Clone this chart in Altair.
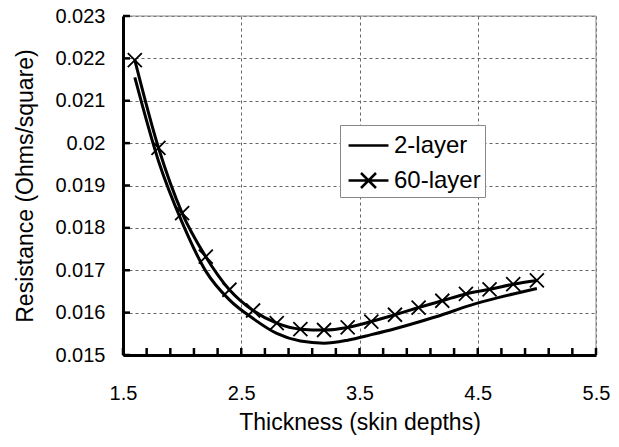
import altair as alt
import pandas as pd

# ---- data ----
thickness = [1.6, 1.8, 2.0, 2.2, 2.4, 2.6, 2.8, 3.0, 3.2, 3.4, 3.6, 3.8, 4.0, 4.2, 4.4, 4.6, 4.8, 5.0]
r_2layer = [0.02155, 0.01958, 0.01813, 0.01698, 0.01630, 0.01586, 0.01551, 0.01533, 0.01528, 0.01535,
            0.01548, 0.01562, 0.01578, 0.01595, 0.01614, 0.01630, 0.01644, 0.01657]
r_60layer = [0.02196, 0.01989, 0.01835, 0.01732, 0.01654, 0.01605, 0.01575, 0.01561, 0.01559, 0.01565,
             0.01579, 0.01595, 0.01612, 0.01628, 0.01644, 0.01655, 0.01667, 0.01676]
series_names = ["2-layer", "60-layer"]

x_major = [1.5, 2.5, 3.5, 4.5, 5.5]
x_minor = [1.5, 1.7, 1.9, 2.1, 2.3, 2.5, 2.7, 2.9, 3.1, 3.3, 3.5, 3.7, 3.9, 4.1, 4.3, 4.5,
           4.7, 4.9, 5.1, 5.3, 5.5]
y_ticks = [0.015, 0.016, 0.017, 0.018, 0.019, 0.020, 0.021, 0.022, 0.023]

x_title = "Thickness (skin depths)"
y_title = "Resistance (Ohms/square)"

df = pd.DataFrame({
    "thickness": thickness * 2,
    "resistance": r_2layer + r_60layer,
    "series": [series_names[0]] * len(thickness) + [series_names[1]] * len(thickness),
})

W, H = 473, 339
FONT = "Liberation Sans"
xscale = alt.Scale(domain=[1.5, 5.5], nice=False, zero=False)
yscale = alt.Scale(domain=[0.015, 0.023], nice=False, zero=False)

x_axis = alt.Axis(values=x_major, format=".1f", grid=True, gridDash=[3, 3],
                  gridColor="#666", gridWidth=1, ticks=False, tickSize=0,
                  domainWidth=3, domainColor="black", labelPadding=28,
                  titlePadding=8, labelFlush=False)
y_axis = alt.Axis(values=y_ticks, format=".3~f", grid=True, gridDash=[3, 3],
                  gridColor="#666", gridWidth=1, ticks=False, tickSize=0,
                  domainWidth=3, domainColor="black", labelPadding=18,
                  titlePadding=17, labelFlush=False)

X_PATH = "M-1,-1L1,1M-1,1L1,-1"
LEG_LINE = "M-1.33,0L1.33,0"
LEG_LINE_X = "M-1.33,0L1.33,0M-0.5,-0.5L0.5,0.5M-0.5,0.5L0.5,-0.5"

base = alt.Chart(df).encode(
    x=alt.X("thickness:Q", scale=xscale, title=x_title, axis=x_axis),
    y=alt.Y("resistance:Q", scale=yscale, title=y_title, axis=y_axis),
)

lines = base.mark_line(color="black", strokeWidth=3, interpolate="monotone").encode(
    detail="series:N")

points = base.transform_filter(alt.datum.series == series_names[1]).mark_point(
    shape=X_PATH, size=196, filled=False, color="black", strokeWidth=1.8, opacity=1)

legend_layer = base.transform_filter("false").mark_point(
    size=900, filled=False, color="black", strokeWidth=2.5, opacity=1).encode(
    shape=alt.Shape("series:N",
                    scale=alt.Scale(domain=series_names, range=[LEG_LINE, LEG_LINE_X]),
                    legend=alt.Legend(title=None, orient="none", legendX=217, legendY=109,
                                      fillColor="white", strokeColor="#888",
                                      padding=4, symbolOffset=8, rowPadding=6,
                                      symbolSize=900, symbolStrokeWidth=2.5,
                                      symbolStrokeColor="black", symbolFillColor="transparent",
                                      labelFontSize=24, labelFont=FONT, labelColor="black",
                                      labelOffset=9)))

xticks = alt.Chart(pd.DataFrame({"thickness": x_minor})).mark_rule(
    color="black", strokeWidth=2.5).encode(
    x=alt.X("thickness:Q", scale=xscale, title=x_title, axis=x_axis),
    y=alt.value(H - 7), y2=alt.value(H))

yticks = alt.Chart(pd.DataFrame({"resistance": y_ticks})).mark_rule(
    color="black", strokeWidth=2.5).encode(
    y=alt.Y("resistance:Q", scale=yscale, title=y_title, axis=y_axis),
    x=alt.value(0), x2=alt.value(7))

# thin grey frame on the top and right sides of the plot area
top_border = alt.Chart(pd.DataFrame({"resistance": [0.023]})).mark_rule(
    color="#888", strokeWidth=1).encode(
    y=alt.Y("resistance:Q", scale=yscale, title=y_title, axis=y_axis),
    x=alt.value(0), x2=alt.value(W))
right_border = alt.Chart(pd.DataFrame({"thickness": [5.5]})).mark_rule(
    color="#888", strokeWidth=1).encode(
    x=alt.X("thickness:Q", scale=xscale, title=x_title, axis=x_axis),
    y=alt.value(0), y2=alt.value(H))

chart = alt.layer(top_border, right_border, lines, points, xticks, yticks, legend_layer).properties(
    width=W, height=H,
    autosize=alt.AutoSizeParams(type="none"),
    padding={"left": 123, "top": 16, "right": 23, "bottom": 92},
    background="white",
).configure_view(strokeWidth=0).configure_axis(
    labelFont=FONT, titleFont=FONT, labelFontSize=20, titleFontSize=23,
    titleFontWeight="normal", labelColor="black", titleColor="black",
    domainWidth=3, domainColor="black",
)

chart.save("out.html", embed_options={"renderer": "svg", "actions": False})
